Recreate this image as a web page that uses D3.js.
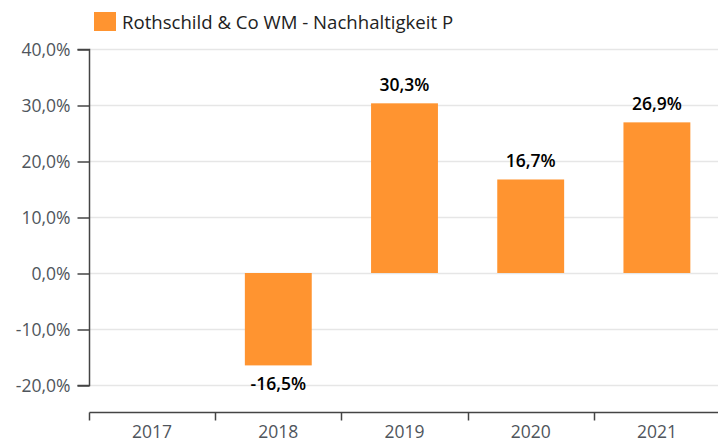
<!DOCTYPE html>
<html>
<head>
  <meta charset="utf-8">
  <title>Rothschild chart</title>
  <script src="https://d3js.org/d3.v7.min.js"></script>
  <style>
  body { margin: 0; background: #fff; }
  text { font-family: 'Open Sans', sans-serif; }
  </style>
</head>
<body>
  <div id='container'></div>
  <script>

  var years = ['2017', '2018', '2019', '2020', '2021']
  var returns = [null, -16.5, 30.3, 16.7, 26.9]
  var yTicks = [-20, -10, 0, 10, 20, 30, 40]
  var seriesName = 'Rothschild & Co WM - Nachhaltigkeit P'

  const width = 718
  const height = 442
  const color = '#ff9430'

  var fmt = (v) => v.toFixed(1).replace('.', ',') + '%'

  var svg = d3.select('#container')
    .append('svg')
    .attr('width', width)
    .attr('height', height)

  var xScale = d3.scaleBand()
    .domain(years)
    .range([89, 720])
    .paddingInner(0.47)
    .paddingOuter(0.235)

  var yScale = d3.scaleLinear()
    .domain([-20, 40])
    .range([385, 49])

  // gridlines
  svg.append('g')
    .selectAll('line')
    .data(yTicks)
    .enter()
    .append('line')
    .attr('x1', 89)
    .attr('x2', width)
    .attr('y1', (d) => yScale(d) + 0.5)
    .attr('y2', (d) => yScale(d) + 0.5)
    .style('stroke', '#e6e6e6')
    .style('stroke-width', 1.5)

  var yAxis = d3.axisLeft(yScale)
    .tickValues(yTicks)
    .tickFormat(fmt)
    .tickSize(12)
    .tickPadding(7)

  var gy = svg.append('g')
    .attr('transform', 'translate(89.5,0.5)')
    .call(yAxis)
  gy.select('.domain').attr('d', 'M-12,' + yScale(40) + 'H0V' + yScale(-20) + 'H-12').style('stroke', '#444').style('stroke-width', 1.5)
  gy.selectAll('.tick line').style('stroke', '#444').style('stroke-width', 1.5)
  gy.selectAll('.tick text').style('font-size', '17.5px').style('fill', '#4f555c').style('font-family', "'Open Sans', sans-serif")

  var xAxis = d3.axisBottom(xScale)
    .tickSize(0)
    .tickPadding(13)

  var gx = svg.append('g')
    .attr('transform', 'translate(0,412.5)')
    .call(xAxis)
  gx.select('.domain').attr('d', 'M89.5,0H720').style('stroke', '#444').style('stroke-width', 1.5)
  gx.selectAll('.tick text').style('font-size', '17.5px').style('fill', '#4f555c').style('font-family', "'Open Sans', sans-serif")

  // band boundary ticks
  gx.selectAll('.bound')
    .data(years)
    .enter()
    .append('line')
    .attr('x1', (d) => Math.round(xScale(d) - xScale.step() * 0.235) + 0.5)
    .attr('x2', (d) => Math.round(xScale(d) - xScale.step() * 0.235) + 0.5)
    .attr('y1', 0)
    .attr('y2', 8)
    .style('stroke', '#444')
    .style('stroke-width', 1.5)

  var data = years.map((y, i) => ({year: y, v: returns[i]})).filter((d) => d.v !== null)

  svg.append('g')
    .selectAll('rect')
    .data(data)
    .enter()
    .append('rect')
    .attr('x', (d) => xScale(d.year))
    .attr('width', xScale.bandwidth())
    .attr('y', (d) => yScale(Math.max(0, d.v)))
    .attr('height', (d) => Math.abs(yScale(d.v) - yScale(0)))
    .style('fill', color)

  svg.append('g')
    .selectAll('text')
    .data(data)
    .enter()
    .append('text')
    .attr('x', (d) => xScale(d.year) + xScale.bandwidth() / 2)
    .attr('y', (d) => d.v >= 0 ? yScale(d.v) - 12 : yScale(d.v) + 25)
    .attr('text-anchor', 'middle')
    .style('font-size', '17.5px')
    .style('font-weight', 600)
    .style('fill', '#000')
    .text((d) => fmt(d.v))

  // legend
  svg.append('rect')
    .attr('x', 94)
    .attr('y', 12)
    .attr('width', 22)
    .attr('height', 19)
    .style('fill', color)

  svg.append('text')
    .attr('x', 122)
    .attr('y', 29)
    .style('font-size', '18.6px')
    .style('fill', '#222')
    .text(seriesName)

  </script>
</body>
</html>
